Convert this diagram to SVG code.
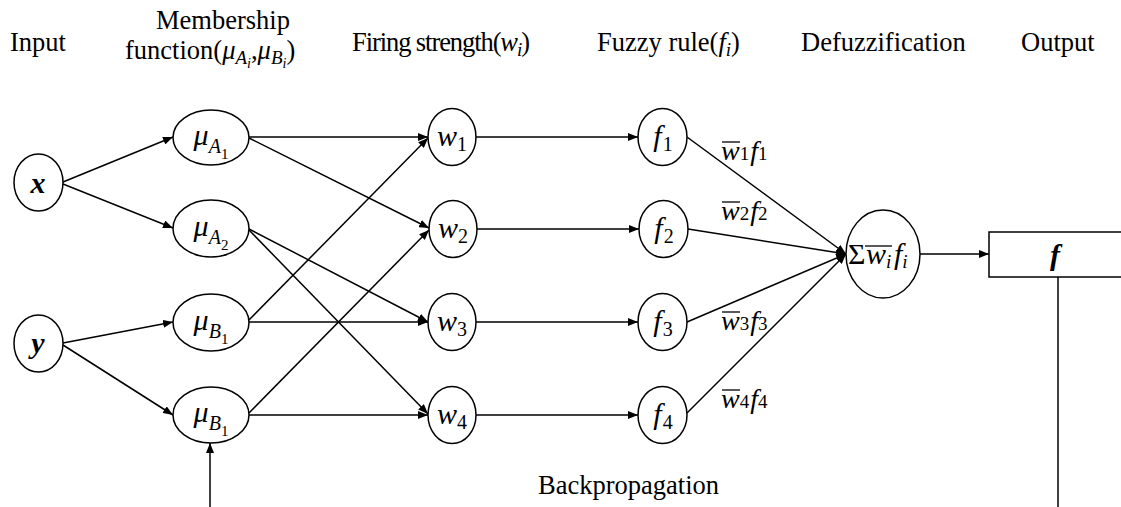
<svg xmlns="http://www.w3.org/2000/svg" width="1121" height="507" viewBox="0 0 1121 507">
<style>
.bg{fill:#fff}
.node{fill:#fff;stroke:#000;stroke-width:1.5}
.edge{stroke:#000;stroke-width:1.5;fill:none;marker-end:url(#arr)}
.line{stroke:#000;stroke-width:1.5;fill:none}
.ol{stroke:#000;stroke-width:1.3}
.hdr{font-family:"Liberation Serif",serif;font-size:26.5px;fill:#000}
.m{font-family:"Liberation Serif",serif;font-style:italic;font-size:30px;fill:#000}
.bm{font-family:"Liberation Serif",serif;font-style:italic;font-weight:bold;font-size:30px;fill:#000}
.sub{font-size:20px}
.ss{font-size:15px;font-style:normal}
.d{font-style:normal}
.lab{font-family:"Liberation Serif",serif;font-style:italic;font-size:28px;fill:#000}
.ls{font-size:19px;font-style:normal}
</style>
<defs>
<marker id="arr" viewBox="0 0 10 8" refX="10" refY="4" markerWidth="10" markerHeight="8" markerUnits="userSpaceOnUse" orient="auto">
<path d="M0,0 L10,4 L0,8 z" fill="#000"/>
</marker>
</defs>
<rect class="bg" x="0" y="0" width="1121" height="507"/>

<g id="headers">
<text class="hdr" x="10" y="51">Input</text>
<text class="hdr" x="223" y="29" text-anchor="middle">Membership</text>
<text class="hdr" x="125" y="59">function(<tspan font-style="italic">μ</tspan><tspan font-style="italic" font-size="19px" dy="5">A</tspan><tspan font-style="italic" font-size="14px" dy="4">i</tspan><tspan dy="-9">,</tspan><tspan font-style="italic">μ</tspan><tspan font-style="italic" font-size="19px" dy="5">B</tspan><tspan font-style="italic" font-size="14px" dy="4">i</tspan><tspan dy="-9">)</tspan></text>
<text class="hdr" x="352" y="51" textLength="178">Firing strength(<tspan font-style="italic">w</tspan><tspan font-style="italic" font-size="19px" dy="5">i</tspan><tspan dy="-5">)</tspan></text>
<text class="hdr" x="597" y="51">Fuzzy rule(<tspan font-style="italic">f</tspan><tspan font-style="italic" font-size="19px" dy="5">i</tspan><tspan dy="-5">)</tspan></text>
<text class="hdr" x="801" y="51">Defuzzification</text>
<text class="hdr" x="1021" y="51">Output</text>
<text class="hdr" x="538" y="494">Backpropagation</text>
</g>

<g id="connectors">
<line class="edge" x1="63" y1="182" x2="173" y2="137"/>
<line class="edge" x1="63" y1="184" x2="173" y2="228"/>
<line class="edge" x1="63" y1="343" x2="173" y2="322"/>
<line class="edge" x1="63" y1="345" x2="173" y2="415"/>
<line class="edge" x1="249" y1="137" x2="428" y2="137"/>
<line class="edge" x1="249" y1="138" x2="429" y2="228"/>
<line class="edge" x1="249" y1="229" x2="428" y2="322"/>
<line class="edge" x1="249" y1="230" x2="428" y2="414"/>
<line class="edge" x1="249" y1="320" x2="428" y2="138"/>
<line class="edge" x1="249" y1="322" x2="428" y2="322"/>
<line class="edge" x1="249" y1="413" x2="429" y2="230"/>
<line class="edge" x1="249" y1="415" x2="428" y2="415"/>
<line class="edge" x1="476" y1="137" x2="638" y2="137"/>
<line class="edge" x1="477" y1="229" x2="639" y2="229"/>
<line class="edge" x1="476" y1="322" x2="638" y2="322"/>
<line class="edge" x1="476" y1="415" x2="638" y2="415"/>
<line class="edge" x1="687" y1="137" x2="846" y2="254"/>
<line class="edge" x1="688" y1="229" x2="846" y2="254"/>
<line class="edge" x1="687" y1="322" x2="846" y2="254"/>
<line class="edge" x1="687" y1="413" x2="846" y2="254"/>
<line class="edge" x1="920" y1="254" x2="989" y2="254"/>
<line class="line" x1="1058" y1="277" x2="1058" y2="507"/>
<line class="edge" x1="210" y1="507" x2="210" y2="443"/>
</g>

<g id="edge-labels">
<text class="lab" x="721" y="160">w<tspan class="ls">1</tspan><tspan dx="1">f</tspan><tspan class="ls">1</tspan></text>
<line class="ol" x1="722" y1="142" x2="740" y2="142"/>
<text class="lab" x="721" y="220">w<tspan class="ls">2</tspan><tspan dx="1">f</tspan><tspan class="ls">2</tspan></text>
<line class="ol" x1="722" y1="202" x2="740" y2="202"/>
<text class="lab" x="721" y="330">w<tspan class="ls">3</tspan><tspan dx="1">f</tspan><tspan class="ls">3</tspan></text>
<line class="ol" x1="722" y1="312" x2="740" y2="312"/>
<text class="lab" x="721" y="408">w<tspan class="ls">4</tspan><tspan dx="1">f</tspan><tspan class="ls">4</tspan></text>
<line class="ol" x1="722" y1="390" x2="740" y2="390"/>
</g>

<g id="node-x"><ellipse class="node" cx="38.5" cy="182.5" rx="24.5" ry="28.5"/><text class="bm" x="38" y="193" text-anchor="middle">x</text></g>
<g id="node-y"><ellipse class="node" cx="38.5" cy="343.5" rx="24.5" ry="28.5"/><text class="bm" x="38" y="353" text-anchor="middle">y</text></g>

<g id="node-muA1"><ellipse class="node" cx="211" cy="137.5" rx="38" ry="27.5"/><text class="m" x="211" y="145" text-anchor="middle">μ<tspan class="sub" dy="8">A</tspan><tspan class="ss" dy="6">1</tspan></text></g>
<g id="node-muA2"><ellipse class="node" cx="211" cy="228.5" rx="38" ry="28.5"/><text class="m" x="211" y="236" text-anchor="middle">μ<tspan class="sub" dy="8">A</tspan><tspan class="ss" dy="6">2</tspan></text></g>
<g id="node-muB1a"><ellipse class="node" cx="211" cy="322.5" rx="38" ry="28.5"/><text class="m" x="211" y="330" text-anchor="middle">μ<tspan class="sub" dy="8">B</tspan><tspan class="ss" dy="6">1</tspan></text></g>
<g id="node-muB1b"><ellipse class="node" cx="211" cy="415" rx="38" ry="28"/><text class="m" x="211" y="422" text-anchor="middle">μ<tspan class="sub" dy="8">B</tspan><tspan class="ss" dy="6">1</tspan></text></g>

<g id="node-w1"><ellipse class="node" cx="452" cy="137" rx="24" ry="28.5"/><text class="m" x="452" y="146" text-anchor="middle">w<tspan class="sub d" dy="5">1</tspan></text></g>
<g id="node-w2"><ellipse class="node" cx="453" cy="229" rx="24" ry="28.5"/><text class="m" x="453" y="238" text-anchor="middle">w<tspan class="sub d" dy="5">2</tspan></text></g>
<g id="node-w3"><ellipse class="node" cx="452" cy="322" rx="24" ry="28.5"/><text class="m" x="452" y="331" text-anchor="middle">w<tspan class="sub d" dy="5">3</tspan></text></g>
<g id="node-w4"><ellipse class="node" cx="452" cy="415" rx="24" ry="28.5"/><text class="m" x="452" y="424" text-anchor="middle">w<tspan class="sub d" dy="5">4</tspan></text></g>

<g id="node-f1"><ellipse class="node" cx="662.5" cy="137" rx="24.5" ry="28.5"/><text class="m" x="663" y="146" text-anchor="middle">f<tspan class="sub d" dy="5" dx="1">1</tspan></text></g>
<g id="node-f2"><ellipse class="node" cx="663.5" cy="229" rx="24.5" ry="28.5"/><text class="m" x="664" y="238" text-anchor="middle">f<tspan class="sub d" dy="5" dx="1">2</tspan></text></g>
<g id="node-f3"><ellipse class="node" cx="662.5" cy="322" rx="24.5" ry="28.5"/><text class="m" x="663" y="331" text-anchor="middle">f<tspan class="sub d" dy="5" dx="1">3</tspan></text></g>
<g id="node-f4"><ellipse class="node" cx="662.5" cy="415" rx="24.5" ry="28.5"/><text class="m" x="663" y="424" text-anchor="middle">f<tspan class="sub d" dy="5" dx="1">4</tspan></text></g>

<g id="node-sum"><ellipse class="node" cx="883" cy="254" rx="37" ry="44"/><text class="m" x="848" y="264" font-size="28px"><tspan class="d">Σ</tspan><tspan x="866">w</tspan><tspan font-size="19px" dy="4">i</tspan><tspan x="894" dy="-4">f</tspan><tspan font-size="19px" dy="4">i</tspan></text><line class="ol" x1="865" y1="246" x2="892" y2="246"/></g>

<g id="node-output"><rect class="node" x="989" y="232" width="140" height="45"/><text class="bm" x="1055" y="265" text-anchor="middle">f</text></g>
</svg>
